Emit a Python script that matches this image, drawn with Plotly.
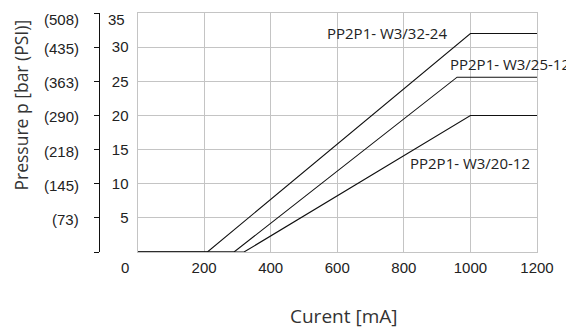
import plotly.graph_objects as go

# ---- data ----
series_names = ["PP2P1- W3/32-24", "PP2P1- W3/25-12", "PP2P1- W3/20-12"]
x_3224 = [0, 210, 1000, 1200]
y_3224 = [0, 0, 32, 32]
x_2512 = [0, 290, 960, 1200]
y_2512 = [0, 0, 25.6, 25.6]
x_2012 = [0, 320, 1000, 1200]
y_2012 = [0, 0, 20, 20]

x_ticks = [0, 200, 400, 600, 800, 1000, 1200]
bar_ticks = [0, 5, 10, 15, 20, 25, 30, 35]
psi_labels = ["", "(73)", "(145)", "(218)", "(290)", "(363)", "(435)", "(508)"]

TICK_FONT = dict(family="Liberation Sans, Arial, sans-serif", size=15, color="#222")
TEXT_FONT = dict(family="Open Sans, Noto Sans, sans-serif", size=18, color="#333")
LBL_FONT = dict(family="Open Sans, Noto Sans, sans-serif", size=15, color="#222")
GRID = "#c4c4c4"

# layout geometry (pixels); page is offset by the default 8px body margin
OFF = 8
W, H = 574 - OFF, 331 - OFF
ML, MR, MT, MB = 50, 37, 5, 79
PW = W - ML - MR
PH = H - MT - MB


def px(x_ref):
    return (x_ref - OFF - ML) / PW


def py(y_ref):
    return (H - MB - (y_ref - OFF)) / PH


fig = go.Figure()
for name, xs, ys in [(series_names[0], x_3224, y_3224),
                     (series_names[1], x_2512, y_2512),
                     (series_names[2], x_2012, y_2012)]:
    fig.add_trace(go.Scatter(x=xs, y=ys, mode="lines", name=name,
                             line=dict(color="#111", width=1.1),
                             showlegend=False, hoverinfo="skip"))

# invisible trace so the secondary (PSI) axis is drawn
fig.add_trace(go.Scatter(x=[0], y=[0], yaxis="y2", mode="markers",
                         marker=dict(opacity=0), showlegend=False, hoverinfo="skip"))

fig.update_layout(
    width=W, height=H,
    margin=dict(l=ML, r=MR, t=MT, b=MB),
    paper_bgcolor="white", plot_bgcolor="white",
    xaxis=dict(domain=[px(137.5), 1], range=[0, 1200],
               tickvals=x_ticks, ticktext=[""] + [str(v) for v in x_ticks[1:]],
               showgrid=True, gridcolor=GRID, gridwidth=1,
               showline=True, linecolor=GRID, linewidth=1, mirror=True,
               zeroline=False, ticks="", tickfont=TICK_FONT,
               ticklabelstandoff=2),
    yaxis=dict(range=[0, 35], tickvals=bar_ticks[1:-1],
               ticktext=[str(v) for v in bar_ticks[1:-1]],
               showgrid=True, gridcolor=GRID, gridwidth=1,
               showline=True, linecolor=GRID, linewidth=1, mirror=True,
               zeroline=False, ticks="", tickfont=TICK_FONT,
               ticklabelstandoff=5),
    yaxis2=dict(range=[0, 35], overlaying="y", anchor="free", side="left",
                position=px(99), tickvals=bar_ticks,
                ticktext=["" for _ in bar_ticks],
                showgrid=False, zeroline=False,
                showline=True, linecolor="#111", linewidth=1,
                ticks="outside", ticklen=5, tickcolor="#111", tickwidth=1),
)

# PSI labels next to the bracket axis
for v, lab in zip(bar_ticks[1:-1], psi_labels[1:-1]):
    fig.add_annotation(text=lab, xref="paper", yref="y", x=px(81), y=v, yshift=-1.5,
                       xanchor="right", yanchor="middle", showarrow=False, font=TICK_FONT)

ann = [
    dict(text=str(bar_ticks[-1]), x=px(127), y=py(19.5), xanchor="right", yanchor="middle", font=TICK_FONT),
    dict(text=psi_labels[-1], x=px(81), y=py(19.5), xanchor="right", yanchor="middle", font=TICK_FONT),
    dict(text=str(x_ticks[0]), x=px(125), y=py(267.5), xanchor="center", yanchor="middle", font=TICK_FONT),
    dict(text="Pressure p [bar (PSI)]", x=px(20.5), y=py(105), textangle=-90, borderpad=0,
         xanchor="center", yanchor="middle", font=dict(TEXT_FONT, size=17.5)),
    dict(text="Curent [mA]", x=px(343), y=py(316), xanchor="center", yanchor="middle",
         font=dict(TEXT_FONT, size=19)),
]
for a in ann:
    fig.add_annotation(xref="paper", yref="paper", showarrow=False, **a)

fig.add_annotation(text=series_names[0], x=749, y=32, xref="x", yref="y",
                   showarrow=False, font=LBL_FONT, xanchor="center", yanchor="middle")
fig.add_annotation(text=series_names[1], x=1118, y=27.6, xref="x", yref="y",
                   showarrow=False, font=LBL_FONT, xanchor="center", yanchor="middle")
fig.add_annotation(text=series_names[2], x=1000, y=13, xref="x", yref="y",
                   showarrow=False, font=LBL_FONT, xanchor="center", yanchor="middle")

fig.write_html("out.html")
